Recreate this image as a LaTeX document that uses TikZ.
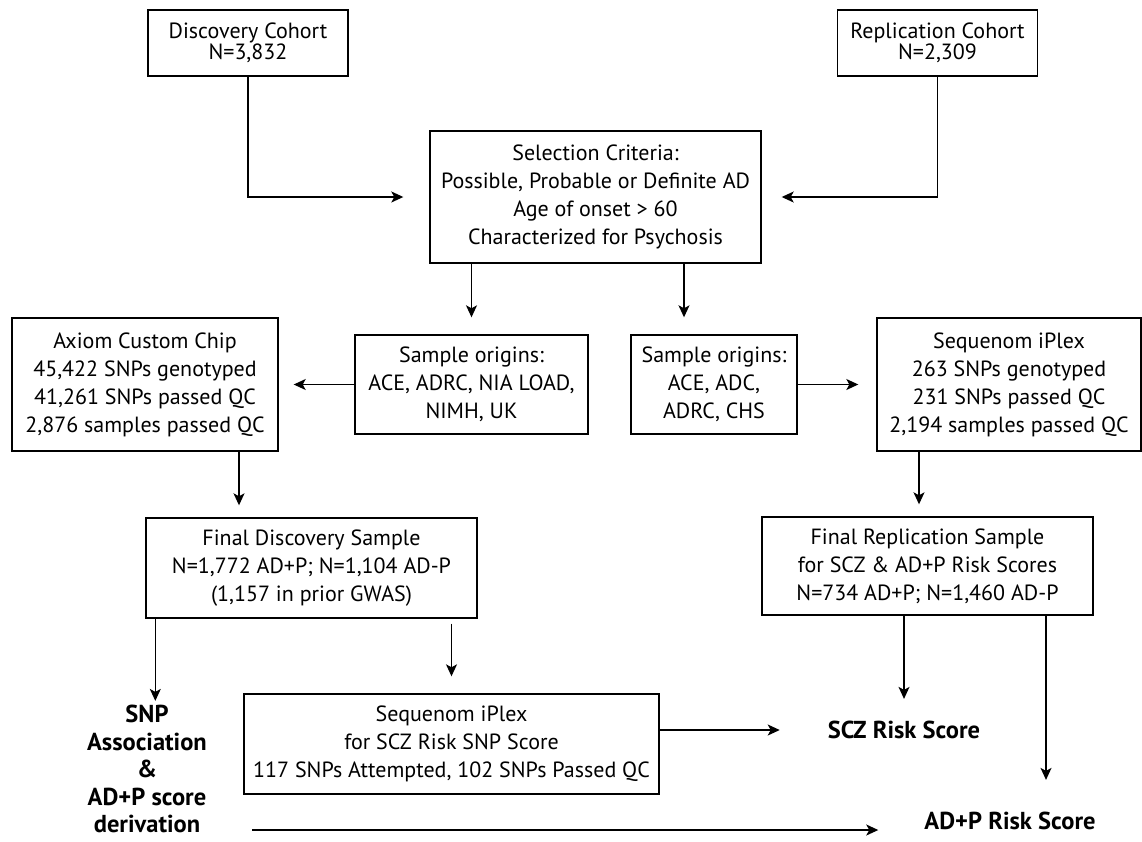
\documentclass[tikz,border=0pt]{standalone}
\usepackage{fontspec}
\setmainfont{PT Sans}
\usetikzlibrary{arrows.meta}

\tikzset{
	box/.style={draw, line width=1.4pt, align=center, inner sep=0pt, font=\fontsize{22}{28}\selectfont},
	cohort/.style={box, minimum width=200, minimum height=66, font=\fontsize{22}{19}\selectfont},
	result/.style={align=center, inner sep=0pt, font=\fontsize{24.5}{28}\selectfont\bfseries},
	arr/.style={line width=1.4pt, -{Stealth[length=12pt,width=11pt,inset=3pt]}}
}

\begin{document}
\begin{tikzpicture}[x=1pt,y=-1pt]
		\useasboundingbox ( 0, 0 ) rectangle ( 1142, 841 );

		% cohorts
		\node [cohort] (disc) at ( 248, 43 ) {Discovery Cohort\\N=3,832};
		\node [cohort] (repl) at ( 937.5, 43 ) {Replication Cohort\\N=2,309};

		% selection
		\node [box, minimum width=331, minimum height=132] (sel) at ( 595.5, 197 ) {Selection Criteria:\\Possible, Probable or Definite AD\\Age of onset > 60\\Characterized for Psychosis};
		\draw [arr, shorten >=26pt] (disc.south) |- (sel.west);
		\draw [arr, shorten >=20pt] (repl.south) |- (sel.east);

		% sample origins
		\node [box, minimum width=233, minimum height=99] (orgL) at ( 471.5, 384.5 ) {Sample origins:\\ACE, ADRC, NIA LOAD,\\NIMH, UK};
		\node [box, minimum width=166, minimum height=99] (orgR) at ( 714, 384.5 ) {Sample origins:\\ACE, ADC,\\ADRC, CHS};
		\draw [arr, shorten >=17pt] (sel.south -| orgL.north) -- (orgL.north);
		\draw [arr, shorten >=17pt] ([xshift=-30pt]orgR.north |- sel.south) -- ([xshift=-30pt]orgR.north);

		% genotyping
		\node [box, minimum width=266, minimum height=133] (axiom) at ( 145, 384.5 ) {Axiom Custom Chip\\45,422 SNPs genotyped\\41,261 SNPs passed QC\\2,876 samples passed QC};
		\node [box, minimum width=264, minimum height=133] (seqR) at ( 1009, 384.5 ) {Sequenom iPlex\\263 SNPs genotyped\\231 SNPs passed QC\\2,194 samples passed QC};
		\draw [arr, shorten >=15pt] (orgL.west) -- (axiom.east);
		\draw [arr, shorten >=18pt] (orgR.east) -- (seqR.west);

		% final samples
		\node [box, minimum width=331, minimum height=100] (fdisc) at ( 311.5, 568 ) {Final Discovery Sample\\N=1,772 AD+P; N=1,104 AD-P\\(1,157 in prior GWAS)};
		\node [box, minimum width=331, minimum height=98] (frepl) at ( 927.5, 566 ) {Final Replication Sample\\for SCZ \& AD+P Risk Scores\\N=734 AD+P; N=1,460 AD-P};
		\draw [arr, shorten >=12pt] ([xshift=94pt]axiom.south) -- ([xshift=94pt]axiom.south |- fdisc.north);
		\draw [arr, shorten >=12pt] ([xshift=-90pt]seqR.south) -- ([xshift=-90pt]seqR.south |- frepl.north);

		% scores
		\node [box, minimum width=415, minimum height=100] (seqB) at ( 451.5, 744 ) {Sequenom iPlex\\for SCZ Risk SNP Score\\117 SNPs Attempted, 102 SNPs Passed QC};
		\node [result, font=\fontsize{24.5}{27.5}\selectfont\bfseries] (snp) at ( 147, 769 ) {SNP\\Association\\\&\\AD+P score\\derivation};
		\node [result] (scz) at ( 904, 730 ) {SCZ Risk Score};
		\node [result] (adp) at ( 1010, 821 ) {AD+P Risk Score};
		\draw [arr, shorten >=4pt] ([xshift=10pt]fdisc.south west) -- ([xshift=10pt]fdisc.south west |- snp.north);
		\draw [arr, shorten <=5pt, shorten >=17pt] (fdisc.south -| seqB.north) -- (seqB.north);
		\draw [arr, shorten >=48pt] (seqB.east |- scz.west) -- (scz.west);
		\draw [arr, shorten >=22pt] (frepl.south -| scz.north) -- (scz.north);
		\draw [arr, shorten >=32pt] ([xshift=118.5pt]frepl.south) -- ([xshift=118.5pt]frepl.south |- adp.north);
		\draw [arr, shorten <=45pt, shorten >=46pt] ([yshift=-9pt]snp.east |- adp.west) -- ([yshift=-9pt]adp.west);
	\end{tikzpicture}
\end{document}
